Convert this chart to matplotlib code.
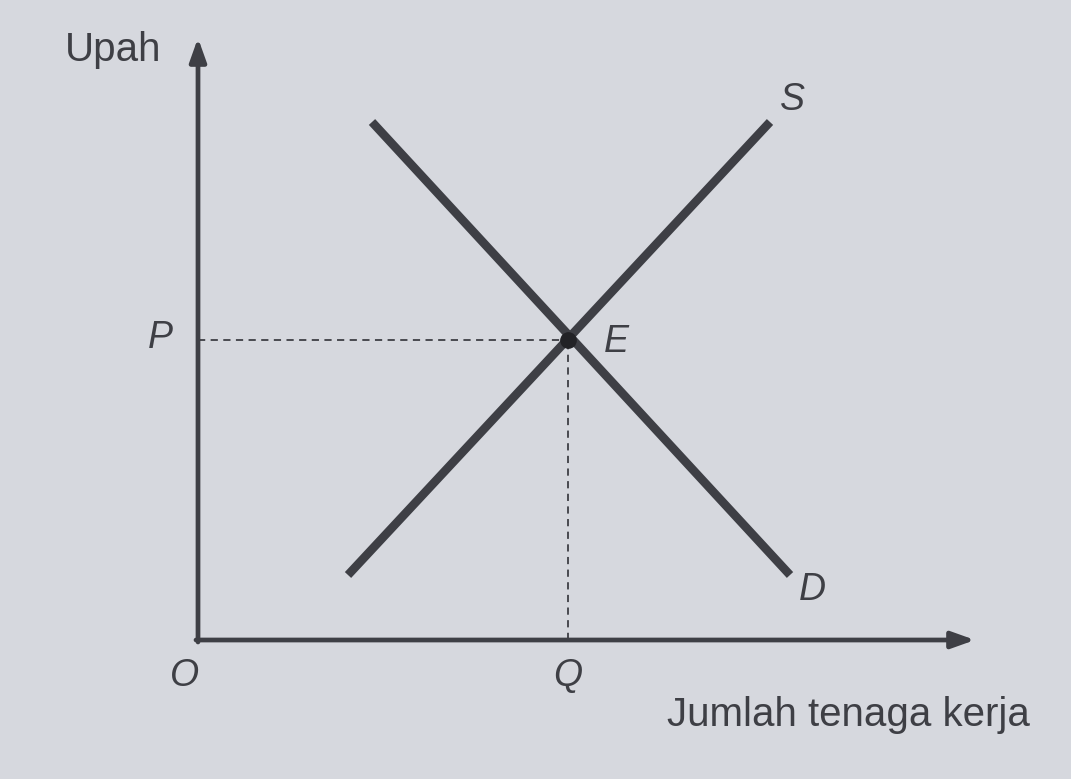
import matplotlib.pyplot as plt

# kurva penawaran (S) dan permintaan (D) tenaga kerja, titik ujung
supply_x = [150, 572]
supply_y = [65, 518]
demand_x = [174, 592]
demand_y = [518, 65]

# titik keseimbangan E
eq_x = 370
eq_y = 300

x_label = "Jumlah tenaga kerja"
y_label = "Upah"

bg = "#d6d8de"
ink = "#3e3f45"

fig = plt.figure(figsize=(10.71, 7.79), dpi=100)
fig.patch.set_facecolor(bg)
ax = fig.add_axes([0, 0, 1, 1])
ax.set_facecolor(bg)
ax.set_xlim(-198, 873)
ax.set_ylim(-139, 640)
ax.axis("off")

# sumbu
ax.annotate("", xy=(777, 0), xytext=(-2, 0),
            arrowprops=dict(arrowstyle="-|>,head_length=1.4,head_width=0.5",
                            color=ink, lw=3.4, shrinkA=0, shrinkB=0))
ax.annotate("", xy=(0, 602), xytext=(0, -2),
            arrowprops=dict(arrowstyle="-|>,head_length=1.4,head_width=0.5",
                            color=ink, lw=3.4, shrinkA=0, shrinkB=0))

# garis putus-putus ke P dan Q
ax.plot([0, eq_x], [eq_y, eq_y], color=ink, lw=1.3, ls=(0, (4, 3)))
ax.plot([eq_x, eq_x], [0, eq_y], color=ink, lw=1.3, ls=(0, (4, 3)))

# kurva S dan D
ax.plot(supply_x, supply_y, color=ink, lw=6.2, solid_capstyle="butt")
ax.plot(demand_x, demand_y, color=ink, lw=6.2, solid_capstyle="butt")
ax.plot(eq_x, eq_y, "o", color="#222226", ms=11)

font = "Liberation Sans"
ax.text(-133, 590, y_label, fontsize=29, family=font, color=ink, ha="left", va="center")
ax.text(832, -75, x_label, fontsize=29, family=font, color=ink, ha="right", va="center")
ax.text(-38, eq_y + 2, "P", fontsize=27, style="italic", family=font, color=ink, ha="center", va="center")
ax.text(eq_x + 48, eq_y - 2, "E", fontsize=27, style="italic", family=font, color=ink, ha="center", va="center")
ax.text(supply_x[1] + 22, supply_y[1] + 22, "S", fontsize=27, style="italic", family=font, color=ink, ha="center", va="center")
ax.text(demand_x[1] + 22, demand_y[1] - 15, "D", fontsize=27, style="italic", family=font, color=ink, ha="center", va="center")
ax.text(-13, -36, "O", fontsize=27, style="italic", family=font, color=ink, ha="center", va="center")
ax.text(eq_x, -36, "Q", fontsize=27, style="italic", family=font, color=ink, ha="center", va="center")

fig.savefig("out.png", dpi=100, facecolor=bg)
